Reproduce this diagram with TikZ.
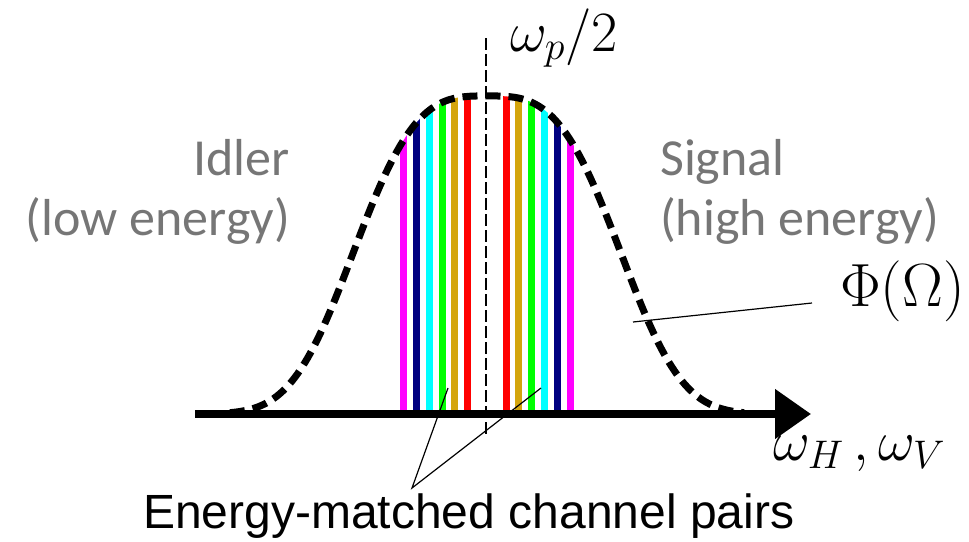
\RequirePackage{fix-cm}
\documentclass[tikz,border=0pt]{standalone}
\usepackage{fontspec}
\setmainfont{Liberation Sans}
\newfontfamily\calibrifont{Carlito}
\usetikzlibrary{arrows.meta}
\definecolor{labelgris}{HTML}{767676}
\definecolor{chmagenta}{HTML}{FF00FF}
\definecolor{chnavy}{HTML}{000080}
\definecolor{chcyan}{HTML}{00FFFF}
\definecolor{chgreen}{HTML}{00FF00}
\definecolor{chgold}{HTML}{D4A50D}
\definecolor{chred}{HTML}{FF0000}

\begin{document}
\begin{tikzpicture}[
  x=1pt, y=-1pt,
  % flat-topped spectrum, centred on omega_p/2
  declare function={spec(\t)=414-318*exp(-pow((abs(\t-487)+0.01)/151,3.2));},
  chan/.style={line width=7pt},
  side/.style={font=\calibrifont\fontsize{52}{60}\selectfont, text=labelgris, inner sep=0pt},
  maths/.style={font=\fontsize{57}{60}\selectfont, inner sep=0pt},
  pointer/.style={line width=1.2pt}
]
\useasboundingbox (0,0) rectangle (969,541);

% channel pairs, cut at the spectrum
\begin{scope}
\clip (230,414) -- plot[domain=230:744, samples=200] (\x, {spec(\x)}) -- cycle;
\draw[chan, chmagenta] (403,414) -- (403,80);
\draw[chan, chnavy] (416,414) -- (416,80);
\draw[chan, chcyan] (429,414) -- (429,80);
\draw[chan, chgreen] (442,414) -- (442,80);
\draw[chan, chgold] (454,414) -- (454,80);
\draw[chan, chred] (467,414) -- (467,80);
\draw[chan, chred] (506,414) -- (506,80);
\draw[chan, chgold] (518,414) -- (518,80);
\draw[chan, chgreen] (531,414) -- (531,80);
\draw[chan, chcyan] (544,414) -- (544,80);
\draw[chan, chnavy] (557,414) -- (557,80);
\draw[chan, chmagenta] (570,414) -- (570,80);
\end{scope}

\coordinate (origin) at (195,414);
\coordinate (axisend) at (811,414);
\coordinate (ctop) at (486,38);
\coordinate (cbot) at (486,437);

\draw[line width=8pt, -{Triangle[length=36pt, width=48pt]}] (origin) -- (axisend);
\draw[line width=7pt, dash pattern=on 15pt off 8pt] plot[domain=230:744, samples=200] (\x, {spec(\x)});
\draw[line width=2pt, dash pattern=on 12pt off 4pt] (ctop) -- (cbot);

\node[maths, anchor=base west] (half) at (510,51) {$\omega_p/2$};
\node[maths, anchor=base west] (freq) at (773,460) {$\omega_H\mkern3mu,\omega_V$};
\node[maths, font=\fontsize{61}{64}\selectfont, anchor=base west] (phi) at (840,306) {$\Phi(\Omega)$};

\node[side, anchor=base east] (idler) at (290,175) {Idler};
\node[side, anchor=base east] (idlerE) at (290,235) {(low energy)};
\node[side, anchor=base west] (signal) at (660,175) {Signal};
\node[side, anchor=base west] (signalE) at (660,235) {(high energy)};

\node[font=\fontsize{48}{56}\selectfont, anchor=base west, inner sep=0pt] (pairs) at (143,528) {Energy-matched channel pairs};

\coordinate (apex) at (412,488);
\coordinate (pairL) at (448,388);
\coordinate (pairR) at (541,388);
\coordinate (phifoot) at (633,322);
\coordinate (phitip) at (812,303);
\draw[pointer] (pairL) -- (apex) -- (pairR);
\draw[pointer] (phifoot) -- (phitip);
\end{tikzpicture}
\end{document}
